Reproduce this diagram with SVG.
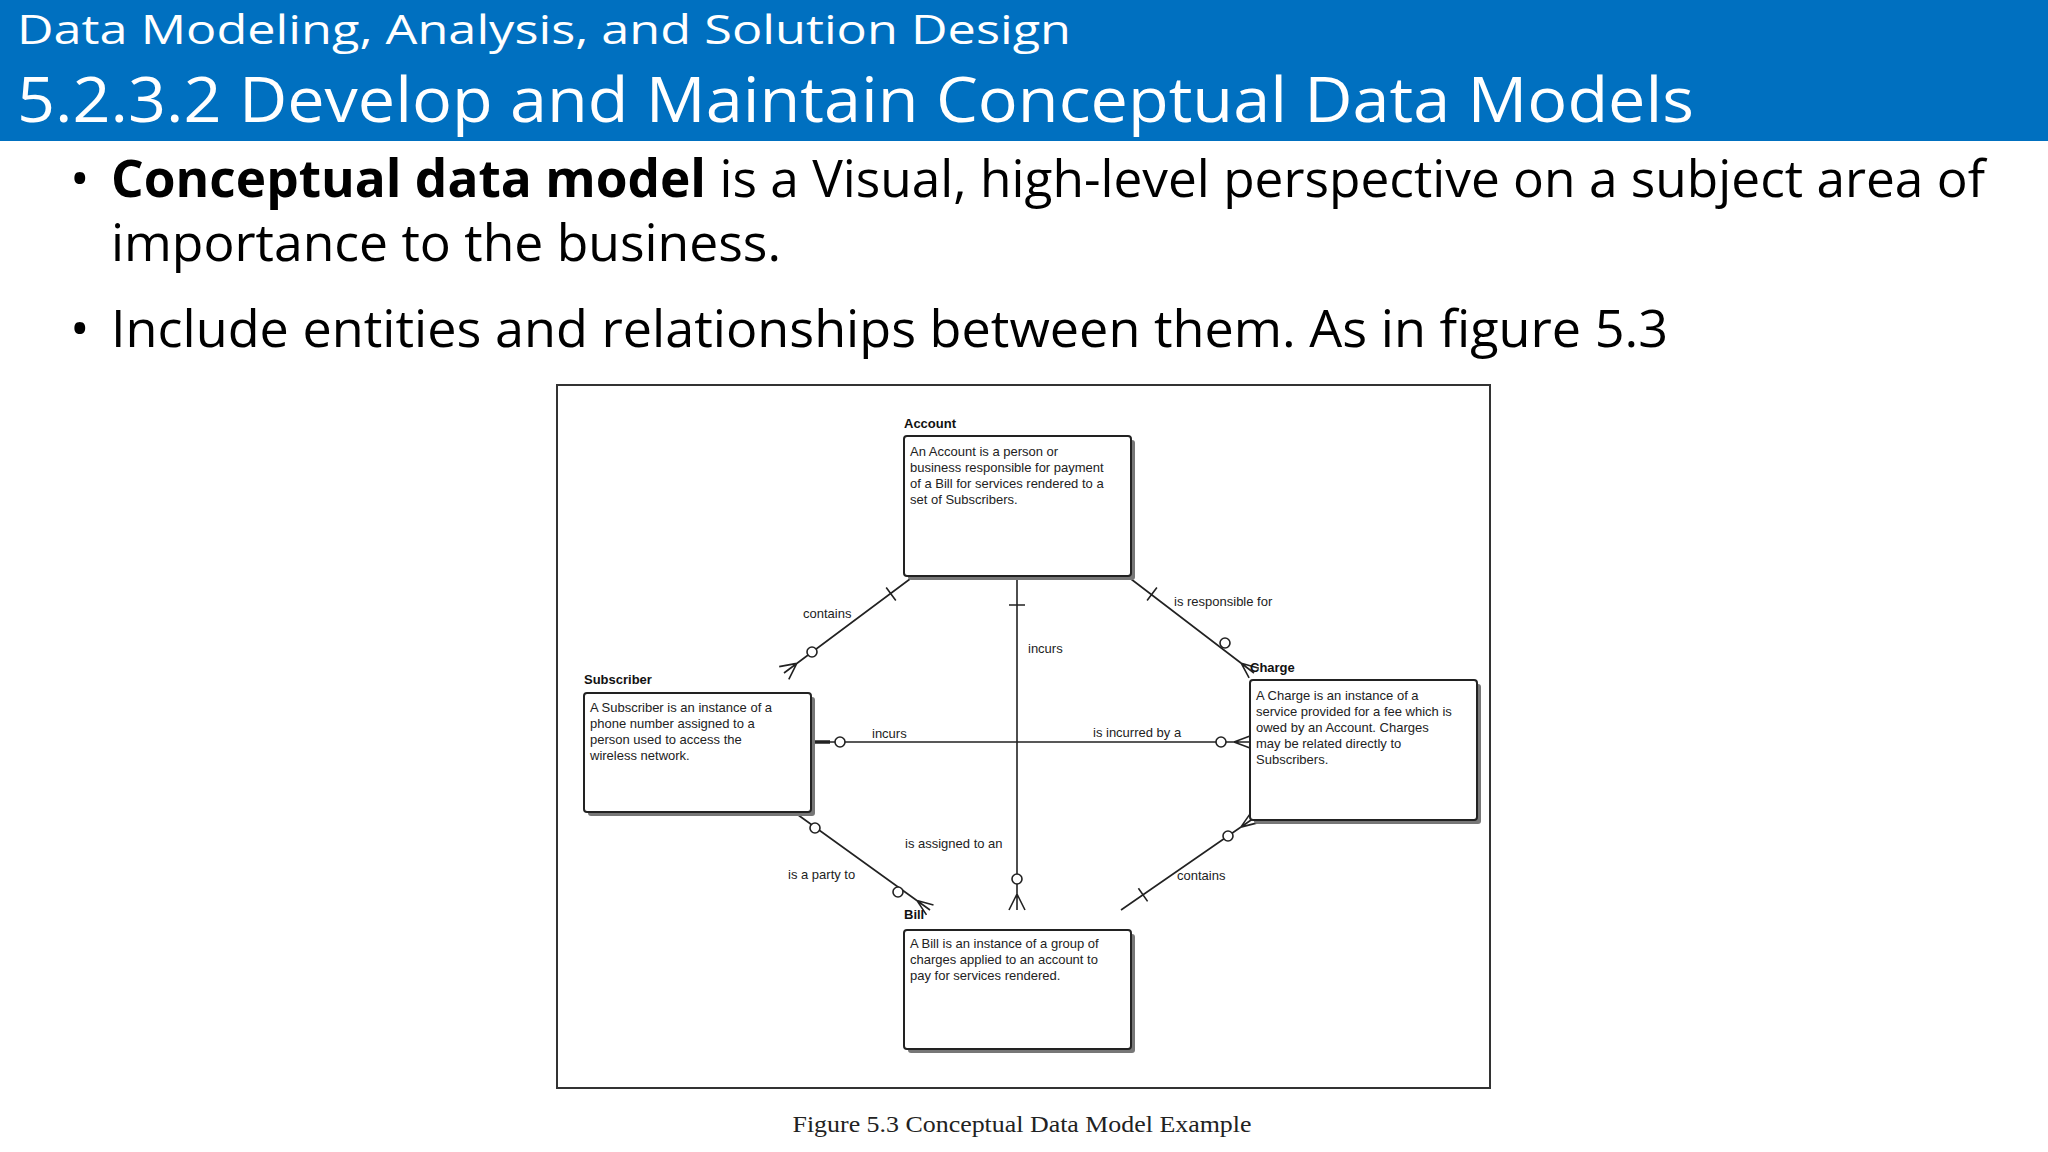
<svg xmlns="http://www.w3.org/2000/svg" width="2048" height="1152" viewBox="0 0 2048 1152">
<style>
.h{font-family:"Open Sans","Liberation Sans",sans-serif;fill:#fff}
.b{font-family:"Open Sans","Liberation Sans",sans-serif;fill:#000;font-size:52px}
.box{fill:#fff;stroke:#222;stroke-width:2}
.sh{fill:#777}
.t{font-family:"Liberation Sans",Arial,sans-serif;font-size:13px;fill:#222}
.lb{font-family:"Liberation Sans",Arial,sans-serif;font-size:13px;font-weight:bold;fill:#111}
.ln{stroke:#222;stroke-width:1.6;fill:none}
.c{fill:#fff;stroke:#222;stroke-width:1.6}
</style>
<rect width="2048" height="1152" fill="#fff"/>
<rect width="2048" height="141" fill="#0070C0"/>
<text class="h" x="17" y="44" font-size="40" textLength="1054" lengthAdjust="spacingAndGlyphs">Data Modeling, Analysis, and Solution Design</text>
<text class="h" x="17" y="122" font-size="62" textLength="1677" lengthAdjust="spacingAndGlyphs">5.2.3.2 Develop and Maintain Conceptual Data Models</text>
<text class="b" x="70" y="197">•</text>
<text class="b" x="111" y="197" textLength="1874" lengthAdjust="spacingAndGlyphs"><tspan font-weight="bold">Conceptual data model</tspan> is a Visual, high-level perspective on a subject area of</text>
<text class="b" x="111" y="261" textLength="670" lengthAdjust="spacingAndGlyphs">importance to the business.</text>
<text class="b" x="70" y="347">•</text>
<text class="b" x="111" y="347" textLength="1557" lengthAdjust="spacingAndGlyphs">Include entities and relationships between them. As in figure 5.3</text>
<rect x="557" y="385" width="933" height="703" fill="#fff" stroke="#333" stroke-width="2"/>
<text x="1022" y="1132" text-anchor="middle" font-family="Liberation Serif,serif" font-size="23" fill="#222" textLength="459" lengthAdjust="spacingAndGlyphs">Figure 5.3 Conceptual Data Model Example</text>
<g id="connectors">
<path class="ln" d="M910 579L784 673M886.2 587.6L895.8 600.4M796.8 663.4L784 673M796.8 663.4L788.8 679.4M796.8 663.4L779.2 666.6"/>
<circle class="c" cx="812" cy="652" r="5"/>
<path class="ln" d="M1017 579V910M1009 605H1025M1017 894L1009 910M1017 894L1025 910"/>
<circle class="c" cx="1017" cy="879" r="5"/>
<path class="ln" d="M1131 579L1254 673M1156.9 587.6L1147.1 600.4M1241.3 663.3L1254 673M1241.3 663.3L1249.1 677.8M1241.3 663.3L1258.9 668.2"/>
<circle class="c" cx="1225" cy="643" r="5"/>
<path class="ln" d="M811 742H1250M1234 742L1250 736M1234 742L1250 748"/>
<path d="M811 742H830" stroke="#222" stroke-width="3.5"/>
<circle class="c" cx="840" cy="742" r="5"/>
<circle class="c" cx="1221" cy="742" r="5"/>
<path class="ln" d="M794 812L930 910M917 900.6L926.5 914.9M917 900.6L933.5 905.1M917 900.6L930 910"/>
<circle class="c" cx="815" cy="828" r="5"/>
<circle class="c" cx="898" cy="892" r="5"/>
<path class="ln" d="M1121 910L1254 818M1240.8 827.1L1257.4 822.9M1240.8 827.1L1250.6 813.1M1147.6 901.4L1138.4 888.2"/>
<circle class="c" cx="1228" cy="836" r="5"/>
<text class="t" x="803" y="618">contains</text>
<text class="t" x="1174" y="606">is responsible for</text>
<text class="t" x="1028" y="653">incurs</text>
<text class="t" x="872" y="738">incurs</text>
<text class="t" x="1093" y="737">is incurred by a</text>
<text class="t" x="905" y="848">is assigned to an</text>
<text class="t" x="788" y="879">is a party to</text>
<text class="t" x="1177" y="880">contains</text>
</g>
<g id="account">
<text class="lb" x="904" y="428">Account</text>
<rect class="sh" x="908" y="440" width="227" height="140" rx="3"/>
<rect class="box" x="904" y="436" width="227" height="140" rx="3"/>
<text class="t" x="910" y="456">An Account is a person or</text>
<text class="t" x="910" y="472">business responsible for payment</text>
<text class="t" x="910" y="488">of a Bill for services rendered to a</text>
<text class="t" x="910" y="504">set of Subscribers.</text>
</g>
<g id="subscriber">
<text class="lb" x="584" y="684">Subscriber</text>
<rect class="sh" x="588" y="697" width="227" height="119" rx="3"/>
<rect class="box" x="584" y="693" width="227" height="119" rx="3"/>
<text class="t" x="590" y="712">A Subscriber is an instance of a</text>
<text class="t" x="590" y="728">phone number assigned to a</text>
<text class="t" x="590" y="744">person used to access the</text>
<text class="t" x="590" y="760">wireless network.</text>
</g>
<g id="charge">
<text class="lb" x="1250" y="672">Charge</text>
<rect class="sh" x="1254" y="684" width="227" height="140" rx="3"/>
<rect class="box" x="1250" y="680" width="227" height="140" rx="3"/>
<text class="t" x="1256" y="700">A Charge is an instance of a</text>
<text class="t" x="1256" y="716">service provided for a fee which is</text>
<text class="t" x="1256" y="732">owed by an Account. Charges</text>
<text class="t" x="1256" y="748">may be related directly to</text>
<text class="t" x="1256" y="764">Subscribers.</text>
</g>
<g id="bill">
<text class="lb" x="904" y="919">Bill</text>
<rect class="sh" x="908" y="934" width="227" height="119" rx="3"/>
<rect class="box" x="904" y="930" width="227" height="119" rx="3"/>
<text class="t" x="910" y="948">A Bill is an instance of a group of</text>
<text class="t" x="910" y="964">charges applied to an account to</text>
<text class="t" x="910" y="980">pay for services rendered.</text>
</g>
</svg>
